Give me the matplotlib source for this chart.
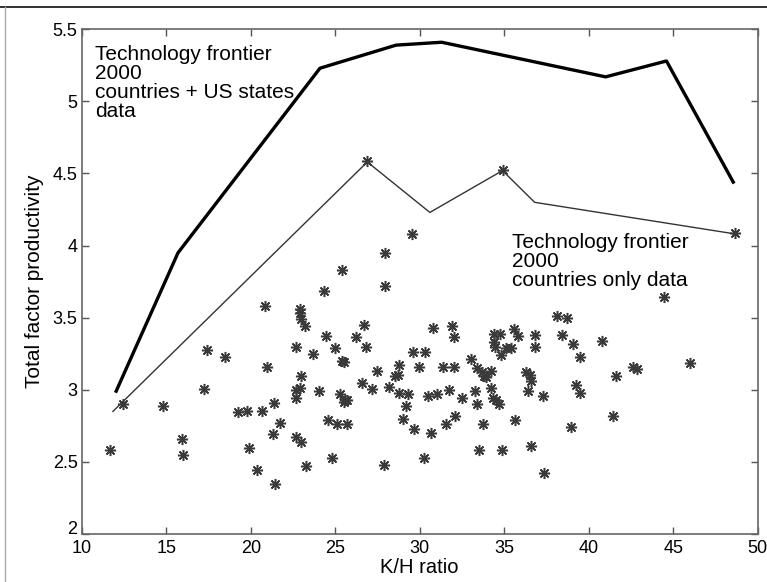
import numpy as np
import matplotlib
matplotlib.use('Agg')
import matplotlib.pyplot as plt
from matplotlib.lines import Line2D

plt.rcParams['font.family'] = ['Liberation Sans', 'DejaVu Sans']

# frontier with countries + US states (thick line)
us_kh = [12.0, 15.7, 24.1, 28.6, 31.3, 41.0, 44.6, 48.6]
us_tfp = [2.98, 3.95, 5.23, 5.39, 5.41, 5.17, 5.28, 4.43]

# frontier with countries only (thin line)
cty_kh = [11.85, 26.9, 30.6, 34.9, 36.8, 48.7]
cty_tfp = [2.85, 4.58, 4.23, 4.52, 4.30, 4.08]

# countries scatter
kh = [11.65, 12.46, 14.84, 15.94, 16.0, 17.24, 17.44, 18.49, 19.24, 19.76,
      19.91, 20.40, 20.69, 20.86, 20.95, 21.30, 21.35, 21.41, 21.73, 22.66,
      22.69, 22.69, 22.66, 22.92, 22.92, 23.0, 23.2, 22.98, 22.92, 22.98,
      23.3, 23.7, 24.02, 24.34, 24.48, 24.6, 24.83, 25.0, 25.12, 25.26,
      25.4, 25.4, 25.55, 25.5, 25.6, 25.7, 25.7, 26.25, 26.57, 26.7,
      26.8, 27.2, 27.5, 27.9, 27.96, 27.93, 28.16, 28.54, 28.74, 28.8,
      28.8, 29.03, 29.17, 29.3, 29.55, 29.6, 29.66, 29.98, 30.27, 30.33,
      30.48, 30.68, 30.77, 31.0, 31.35, 31.58, 31.72, 31.92, 32.0, 32.07,
      32.0, 32.5, 33.03, 33.3, 33.37, 33.37, 33.52, 33.66, 33.72, 33.8,
      33.95, 34.24, 34.24, 34.33, 34.39, 34.39, 34.45, 34.53, 34.68, 34.74,
      34.82, 34.88, 35.1, 35.4, 35.6, 35.63, 35.84, 36.27, 36.4, 36.5,
      36.56, 36.56, 36.85, 36.85, 37.3, 37.37, 38.15, 38.44, 38.73, 38.96,
      39.08, 39.25, 39.46, 39.49, 40.76, 41.43, 41.63, 42.64, 42.87, 44.44,
      45.97, 26.9, 34.9, 48.67]
tfp = [2.585, 2.90, 2.89, 2.66, 2.55, 3.005, 3.276, 3.224, 2.845, 2.856,
       2.593, 2.443, 2.85, 3.58, 3.16, 2.69, 2.907, 2.348, 2.768, 3.294,
       3.0, 2.94, 2.67, 3.56, 3.53, 3.49, 3.44, 3.095, 3.01, 2.64,
       2.47, 3.25, 2.99, 3.688, 3.37, 2.79, 2.53, 3.29, 2.76, 2.97,
       3.83, 3.2, 3.19, 2.915, 2.93, 2.76, 2.93, 3.366, 3.044, 3.45,
       3.295, 3.005, 3.13, 2.48, 3.72, 3.95, 3.02, 3.095, 3.10, 3.175,
       2.98, 2.80, 2.89, 2.97, 4.08, 3.26, 2.73, 3.16, 2.53, 3.26,
       2.96, 2.70, 3.43, 2.97, 3.16, 2.76, 3.0, 3.44, 3.366, 2.82,
       3.16, 2.94, 3.21, 2.99, 2.90, 3.15, 2.58, 3.12, 2.76, 3.095,
       3.09, 3.13, 3.01, 2.94, 3.39, 3.33, 3.30, 2.93, 2.90, 3.39,
       3.24, 2.58, 3.29, 3.29, 3.42, 2.79, 3.37, 3.12, 2.99, 3.10,
       3.06, 2.61, 3.38, 3.30, 2.96, 2.42, 3.51, 3.38, 3.495, 2.74,
       3.32, 3.03, 3.225, 2.98, 3.34, 2.82, 3.095, 3.16, 3.147, 3.64,
       3.185, 4.585, 4.526, 4.088]

xticks = [10, 15, 20, 25, 30, 35, 40, 45, 50]
yticks = [2, 2.5, 3, 3.5, 4, 4.5, 5, 5.5]
yticklabels = ['2', '2.5', '3', '3.5', '4', '4.5', '5', '5.5']

fig = plt.figure(figsize=(7.67, 5.82), dpi=100)
ax = fig.add_axes([0.1065, 0.0825, 0.8814, 0.8672])

ax.plot(us_kh, us_tfp, color='black', lw=2.4, solid_capstyle='butt')
ax.plot(cty_kh, cty_tfp, color='#333333', lw=1.0)
ax.plot(kh, tfp, linestyle='none', marker=(8, 2, 0), markersize=8,
        markeredgecolor='#3a3a3a', markeredgewidth=1.1)

ax.text(10.8, 5.39, 'Technology frontier\n2000\ncountries + US states\ndata',
        fontsize=15, va='top', ha='left', linespacing=1.0)
ax.text(35.45, 4.09, 'Technology frontier\n2000\ncountries only data',
        fontsize=15, va='top', ha='left', linespacing=1.0)

ax.set_xlim(10, 50)
ax.set_ylim(2, 5.5)
ax.set_xticks(xticks)
ax.set_yticks(yticks)
ax.set_yticklabels(yticklabels)
ax.tick_params(direction='in', length=5, width=1, top=True, right=True,
               labelsize=13, color='#555555')
ax.tick_params(axis='x', pad=4)
ax.tick_params(axis='y', pad=3)
# lowest y label sits just above the x labels, as in the original
ax.get_yticklabels()[0].set_verticalalignment('baseline')
for s in ax.spines.values():
    s.set_color('#666666')
    s.set_linewidth(1.2)

ax.set_xlabel('K/H ratio', fontsize=14.5, labelpad=1)
ax.set_ylabel('Total factor productivity', fontsize=15, labelpad=6)

# page frame lines from the scan
fig.add_artist(Line2D([0, 1], [1 - 7 / 582, 1 - 7 / 582], color='#222222', lw=1.3))
fig.add_artist(Line2D([5 / 767, 5 / 767], [0, 1 - 7 / 582], color='#aaaaaa', lw=1.0))

fig.savefig('out.png', dpi=100)
